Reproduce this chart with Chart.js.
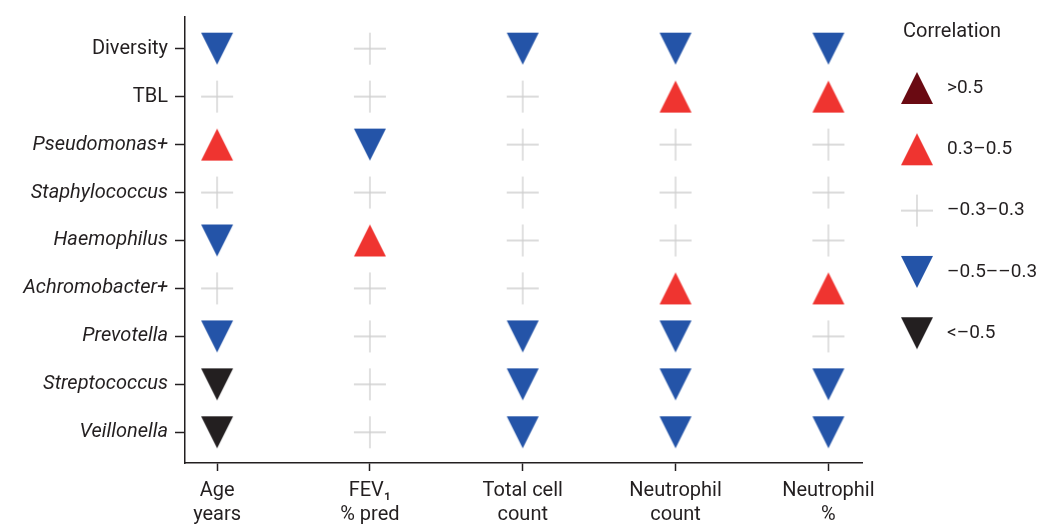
<!DOCTYPE html>
<html lang="en">
<head>
  <meta charset="UTF-8" />
  <title>Correlation matrix</title>
  <script src="https://cdn.jsdelivr.net/npm/chart.js"></script>
  <style>
    body { margin: 0; background: #fff; }
  </style>
</head>
<body>
  <canvas id="corrChart" width="1050" height="530"></canvas>

  <script>
    // Rows (y axis, top to bottom) and columns (x axis)
    const rows = ["Diversity", "TBL", "Pseudomonas+", "Staphylococcus", "Haemophilus",
                  "Achromobacter+", "Prevotella", "Streptococcus", "Veillonella"];
    const taxa = ["Pseudomonas+", "Staphylococcus", "Haemophilus", "Achromobacter+",
                  "Prevotella", "Streptococcus", "Veillonella"];
    const columns = [["Age", "years"], ["FEV\u2081", "% pred"], ["Total cell", "count"],
                     ["Neutrophil", "count"], ["Neutrophil", "%"]];

    // Correlation class per row: 2 = >0.5, 1 = 0.3-0.5, 0 = -0.3-0.3, -1 = -0.5--0.3, -2 = <-0.5
    const ageYears     = [-1, 0, 1, 0, -1, 0, -1, -2, -2];
    const fev1Pred     = [0, 0, -1, 0, 1, 0, 0, 0, 0];
    const totalCells   = [-1, 0, 0, 0, 0, 0, -1, -1, -1];
    const neutCount    = [-1, 1, 0, 0, 0, 1, -1, -1, -1];
    const neutPercent  = [-1, 1, 0, 0, 0, 1, 0, -1, -1];

    const classCodes  = [2, 1, 0, -1, -2];
    const classLabels = [">0.5", "0.3\u20130.5", "\u20130.3\u20130.3", "\u20130.5\u2013\u20130.3", "<\u20130.5"];

    const ink = "#231f20";
    const font = "Roboto";
    const colours = { "2": "#6a0a12", "1": "#ef3430", "0": "#cfcfcf", "-1": "#2454a8", "-2": "#231f20" };

    // Marker images: triangles 32x32, light cross for the neutral class
    function makeMarker(code) {
      const c = document.createElement("canvas");
      c.width = 34; c.height = 34;
      const g = c.getContext("2d");
      if (code === 0) {
        g.strokeStyle = colours["0"];
        g.lineWidth = 1.3;
        g.beginPath();
        g.moveTo(1, 17); g.lineTo(33, 17);
        g.moveTo(17, 1); g.lineTo(17, 33);
        g.stroke();
      } else {
        g.fillStyle = colours[String(code)];
        g.beginPath();
        if (code > 0) { g.moveTo(1, 33); g.lineTo(33, 33); g.lineTo(17, 1); }
        else { g.moveTo(1, 1); g.lineTo(33, 1); g.lineTo(17, 33); }
        g.closePath();
        g.fill();
      }
      return c;
    }
    const markers = {};
    classCodes.forEach(code => { markers[code] = makeMarker(code); });

    const seriesByColumn = [ageYears, fev1Pred, totalCells, neutCount, neutPercent];

    const datasets = classCodes.map((code, k) => {
      const pts = [];
      seriesByColumn.forEach((series, col) => {
        series.forEach((v, row) => { if (v === code) pts.push({ x: col, y: row }); });
      });
      return {
        label: classLabels[k],
        data: pts,
        pointStyle: markers[code],
        pointRadius: 16,
        pointHoverRadius: 16
      };
    });

    // Legend on the right, drawn with the same marker images
    const legendPlugin = {
      id: "corrLegend",
      afterDraw(chart) {
        const ctx = chart.ctx;
        ctx.save();
        ctx.fillStyle = ink;
        ctx.textBaseline = "alphabetic";
        ctx.textAlign = "left";
        ctx.font = "20px " + font;
        ctx.fillText("Correlation", 903, 37);
        classCodes.forEach((code, k) => {
          const cy = 88 + k * 61.3;
          ctx.drawImage(markers[code], 917 - 17, cy - 17);
          ctx.textBaseline = "middle";
          ctx.font = "19px " + font;
          ctx.fillText(classLabels[k], 947, cy);
        });
        ctx.restore();
      }
    };

    // keep the plot box where the reference has it
    function noEdgePadding(s) {
      s.paddingTop = 0; s.paddingBottom = 0;
      s.paddingLeft = 0; s.paddingRight = 0;
    }

    new Chart(document.getElementById("corrChart"), {
      type: "scatter",
      data: { datasets },
      plugins: [legendPlugin],
      options: {
        responsive: false,
        animation: false,
        devicePixelRatio: 1,
        layout: { padding: { top: 13, right: 188, left: 0, bottom: 0 } },
        plugins: { legend: { display: false }, tooltip: { enabled: false } },
        scales: {
          x: {
            type: "linear",
            min: -0.21,
            max: 4.22,
            afterBuildTicks: s => { s.ticks = columns.map((c, i) => ({ value: i })); },
            afterFit: s => { s.height = 67; noEdgePadding(s); },
            ticks: {
              callback: v => columns[v],
              autoSkip: false,
              maxRotation: 0,
              padding: 8,
              color: ink,
              font: { family: font, size: 20, lineHeight: 1.2 }
            },
            grid: { drawOnChartArea: false, tickLength: 8, color: ink, tickWidth: 1.5 },
            border: { color: ink, width: 1.5 }
          },
          y: {
            type: "linear",
            reverse: true,
            min: -0.66,
            max: 8.64,
            afterBuildTicks: s => { s.ticks = rows.map((r, i) => ({ value: i })); },
            afterFit: s => { s.width = 185; noEdgePadding(s); },
            ticks: {
              callback: v => rows[v],
              autoSkip: false,
              padding: 7,
              color: ink,
              font: c => ({ family: font, size: 20, style: taxa.includes(rows[c.index]) ? "italic" : "normal" })
            },
            grid: { drawOnChartArea: false, tickLength: 10, color: ink, tickWidth: 1.5 },
            border: { color: ink, width: 1.5 }
          }
        }
      }
    });
  </script>
</body>
</html>
